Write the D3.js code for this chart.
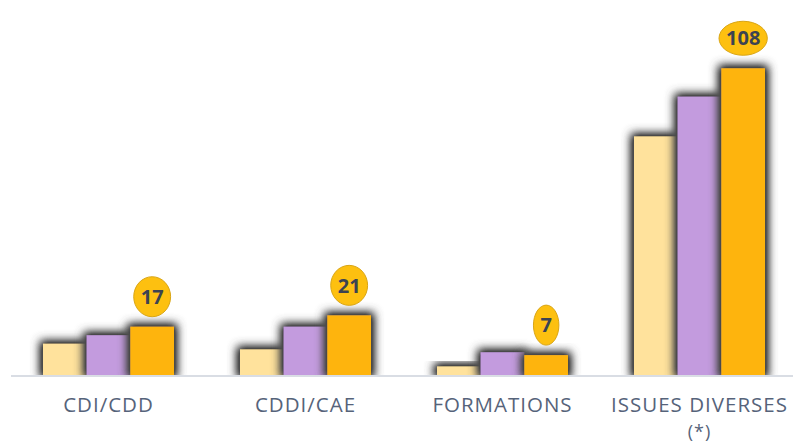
<!DOCTYPE html>
<html>
<head>
<meta charset="utf-8">
<script src="https://cdn.jsdelivr.net/npm/d3@7"></script>
<style>
  html, body { margin: 0; padding: 0; background: #fff; }
  svg { display: block; }
</style>
</head>
<body>
<script>
// data
const categories = ["CDI/CDD", "CDDI/CAE", "FORMATIONS", "ISSUES DIVERSES"];
const categoryNotes = ["", "", "", "(*)"];
const seriesA = [11, 9, 3, 84];   // light yellow
const seriesB = [14, 17, 8, 98];  // purple
const seriesC = [17, 21, 7, 108]; // orange (labelled)
const seriesColors = ["#FFE29C", "#C39BDE", "#FEB40B"];

const width = 793, height = 443;
const baseY = 375;

const svg = d3.select("body").append("svg")
  .attr("width", width)
  .attr("height", height);

// soft dark halo round each bar
const defs = svg.append("defs");
const f = defs.append("filter")
  .attr("id", "shadow")
  .attr("x", "-60%").attr("y", "-60%")
  .attr("width", "220%").attr("height", "220%");
f.append("feMorphology").attr("in", "SourceAlpha").attr("operator", "dilate").attr("radius", 3).attr("result", "d");
f.append("feGaussianBlur").attr("in", "d").attr("stdDeviation", 5).attr("result", "b0");
f.append("feComponentTransfer").attr("in", "b0").attr("result", "b")
  .append("feFuncA").attr("type", "linear").attr("slope", 1.5);
f.append("feFlood").attr("flood-color", "#484848").attr("flood-opacity", 1);
f.append("feComposite").attr("in2", "b").attr("operator", "in").attr("result", "s");
const m = f.append("feMerge");
m.append("feMergeNode").attr("in", "s");
m.append("feMergeNode").attr("in", "SourceGraphic");

const x = d3.scaleBand()
  .domain(categories)
  .range([10, 798])
  .paddingInner(0.335)
  .paddingOuter(0.1675);

const x1 = d3.scaleBand()
  .domain([0, 1, 2])
  .range([0, x.bandwidth()])
  .padding(0);

const y = d3.scaleLinear()
  .domain([0, 120])
  .range([baseY, baseY - 120 * 2.84]);

const series = [seriesA, seriesB, seriesC];

const groups = svg.append("g").selectAll("g")
  .data(categories)
  .join("g")
  .attr("transform", d => `translate(${x(d)},0)`);

groups.each(function(cat, i) {
  const g = d3.select(this);
  series.forEach((s, k) => {
    g.append("rect")
      .attr("x", x1(k))
      .attr("y", y(s[i]))
      .attr("width", x1.bandwidth())
      .attr("height", baseY - y(s[i]))
      .attr("fill", seriesColors[k])
      .attr("filter", "url(#shadow)");
  });
});

// cover shadow below the baseline
svg.append("rect")
  .attr("x", 0).attr("y", baseY + 1)
  .attr("width", width).attr("height", 20)
  .attr("fill", "#fff");

// axis line
svg.append("line")
  .attr("x1", 11).attr("x2", 793)
  .attr("y1", baseY + 1).attr("y2", baseY + 1)
  .attr("stroke", "#d9dde4")
  .attr("stroke-width", 2);

// data labels in ellipses
const lab = svg.append("g").selectAll("g")
  .data(seriesC)
  .join("g")
  .attr("transform", (d, i) => `translate(${x(categories[i]) + x1(2) + x1.bandwidth() / 2},${y(d) - 30})`);

lab.each(function(d) {
  const g = d3.select(this);
  const e = g.append("ellipse").attr("fill", "#FDC010").attr("stroke", "#D9A514").attr("stroke-width", 1);
  const t = g.append("text")
    .attr("text-anchor", "middle")
    .attr("dy", "0.36em")
    .attr("font-family", "'Open Sans', sans-serif")
    .attr("font-weight", 700)
    .attr("font-size", 20)
    .attr("fill", "#3b4352")
    .text(d);
  const tw = t.node().getComputedTextLength();
  e.attr("rx", Math.max(tw / 2 + 7, 10)).attr("ry", tw > 30 ? 17 : 20);
});

// category labels
svg.append("g").selectAll("text")
  .data(categories)
  .join("text")
  .attr("x", d => x(d) + x.bandwidth() / 2)
  .attr("y", 412)
  .attr("text-anchor", "middle")
  .attr("font-family", "'Open Sans', sans-serif")
  .attr("font-size", 20.5)
  .attr("letter-spacing", 1)
  .attr("fill", "#56637a")
  .text(d => d);

svg.append("g").selectAll("text")
  .data(categoryNotes)
  .join("text")
  .attr("x", (d, i) => x(categories[i]) + x.bandwidth() / 2)
  .attr("y", 437.5)
  .attr("text-anchor", "middle")
  .attr("font-family", "'Open Sans', sans-serif")
  .attr("font-size", 18)
  .attr("letter-spacing", 1)
  .attr("fill", "#56637a")
  .text(d => d);
</script>
</body>
</html>
